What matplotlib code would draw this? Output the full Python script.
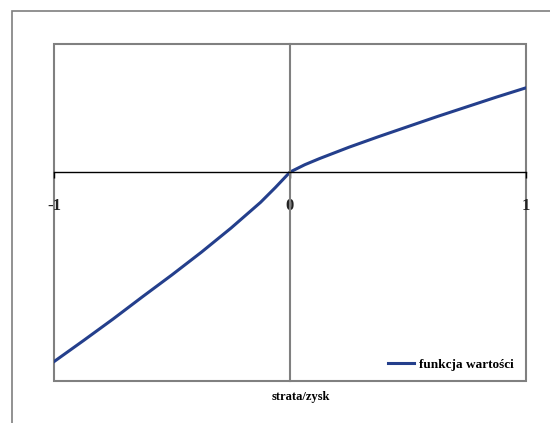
import matplotlib
matplotlib.use("Agg")
import matplotlib.pyplot as plt
from matplotlib.patches import Rectangle

# value function
x = [-1.0, -0.875, -0.75, -0.625, -0.5, -0.375, -0.25, -0.125, -0.0625, 0.0,
     0.0625, 0.125, 0.25, 0.375, 0.5, 0.625, 0.75, 0.875, 1.0]
v = [-2.25, -2.0, -1.745, -1.48, -1.22, -0.95, -0.665, -0.36, -0.185, 0.0,
     0.087, 0.16, 0.295, 0.42, 0.54, 0.66, 0.775, 0.89, 1.0]
xticks = [-1, 0, 1]
xticklabels = ["-1", "0", "1"]

plt.rcParams["font.family"] = ["Liberation Serif", "DejaVu Serif"]
plt.rcParams["font.weight"] = "bold"

fig = plt.figure(figsize=(5.5, 4.23), dpi=100)
ax = fig.add_axes([54 / 550, 1 - 381 / 423, 472 / 550, 337 / 423])

# outer chart frame
fig.patches.append(Rectangle((12 / 550, -0.1), 1.2, 1 - 11 / 423 + 0.1,
                             transform=fig.transFigure, fill=False,
                             edgecolor="#7f7f7f", linewidth=1.2))

ax.plot(x, v, color="#243f8c", linewidth=2.2, label="funkcja wartości")

ax.set_xlim(-1, 1)
ax.set_ylim(-2.48, 1.52)

ax.patch.set_edgecolor("#808080")
ax.patch.set_linewidth(1.5)
ax.spines["top"].set_visible(False)
ax.spines["right"].set_visible(False)
ax.spines["bottom"].set_position(("data", 0))
ax.spines["bottom"].set_color("black")
ax.spines["bottom"].set_linewidth(1.0)
ax.spines["left"].set_position(("data", 0))
ax.spines["left"].set_color("#808080")
ax.spines["left"].set_linewidth(1.5)

ax.set_yticks([])
ax.set_xticks(xticks)
ax.set_xticklabels(xticklabels, fontsize=12, fontweight="bold", color="#222222")
ax.tick_params(axis="x", direction="out", length=4, width=1, pad=14.5)

fig.text(301 / 550, 1 - 397 / 423, "strata/zysk", ha="center", va="center",
         fontsize=9, fontweight="bold")

ax.legend(loc="lower right", bbox_to_anchor=(1.0, -0.005), frameon=False,
          handlelength=2.0, handletextpad=0.4,
          prop={"weight": "bold", "size": 9.5})

fig.savefig("out.png", dpi=100)
